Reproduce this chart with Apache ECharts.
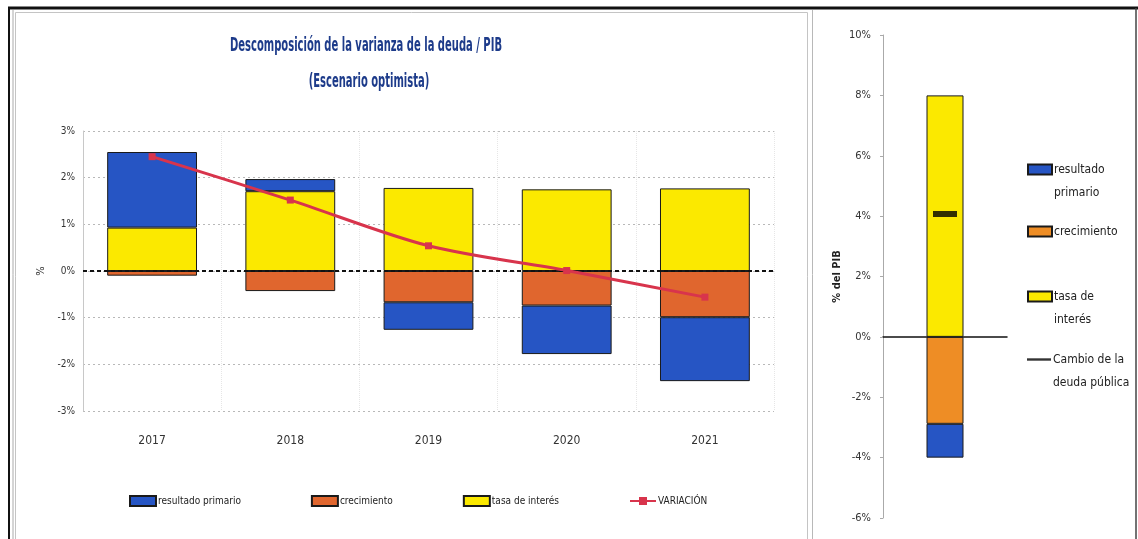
<!DOCTYPE html>
<html><head><meta charset="utf-8">
<script src="https://cdn.jsdelivr.net/npm/echarts@6/dist/echarts.min.js"></script>
<style>html,body{margin:0;padding:0;background:#fff}#c{width:1138px;height:539px}</style>
</head><body><div id="c"></div><script>
// ---- data (left chart, % of GDP) ----
const years = ['2017', '2018', '2019', '2020', '2021'];
const resultadoPrimario = [1.62, 0.26, -0.59, -1.04, -1.37];
const crecimiento = [-0.10, -0.43, -0.67, -0.74, -0.99];
const tasaInteres = [0.93, 1.71, 1.78, 1.75, 1.77];
const variacion = [2.45, 1.52, 0.54, 0.01, -0.56];
// ---- data (right chart, accumulated 2017-2021) ----
const periodo = ['2017-2021'];
const totResultado = [-1.12];
const totCrecimiento = [-2.88];
const totTasa = [8.0];
const cambioDeuda = [4.07];
// ---- tick labels ----
const leftTicks = { min: -3, max: 3, interval: 1 };
const rightTicks = { min: -6, max: 10, interval: 2 };
const titleLines = ['Descomposición de la varianza de la deuda / PIB', '(Escenario optimista)'];

const FN = '"DejaVu Sans Condensed","Liberation Sans Narrow","Roboto",sans-serif';
const BLUE = '#2655c4', ORANGE = '#e0662e', YELLOW = '#fbe900', RED = '#d8344c';
const ORANGE2 = '#ee8d25';

// horizontal compression of title to mimic the narrow original font
const TFONT = 'bold 19px ' + FN;
const ctx = document.createElement('canvas').getContext('2d');
ctx.font = TFONT;
const t1w = ctx.measureText(titleLines[0]).width;
const titleScale = 272 / t1w;

const chart = echarts.init(document.getElementById('c'), null, { renderer: 'canvas' });
const legendTxt = { fontFamily: FN, fontSize: 10, color: '#222', padding: [0, 0, 0, -3] };
const rightLegendTxt = { fontFamily: FN, fontSize: 12, color: '#222', lineHeight: 23, padding: [0, 0, 0, -3] };

const option = {
  animation: false,
  backgroundColor: '#fff',
  graphic: [
    { type: 'line', silent: true, shape: { x1: 8, y1: 8, x2: 1138, y2: 8 }, style: { stroke: '#111', lineWidth: 3 } },
    { type: 'line', silent: true, shape: { x1: 9, y1: 8, x2: 9, y2: 539 }, style: { stroke: '#111', lineWidth: 2 } },
    { type: 'line', silent: true, shape: { x1: 13, y1: 10, x2: 13, y2: 539 }, style: { stroke: '#aaa', lineWidth: 1 } },
    { type: 'rect', silent: true, shape: { x: 15.5, y: 12.5, width: 792, height: 530 }, style: { fill: 'none', stroke: '#c4c4c4', lineWidth: 1 } },
    { type: 'line', silent: true, shape: { x1: 812.5, y1: 10, x2: 812.5, y2: 539 }, style: { stroke: '#b8b8b8', lineWidth: 1 } },
    { type: 'line', silent: true, shape: { x1: 1136, y1: 8, x2: 1136, y2: 539 }, style: { stroke: '#444', lineWidth: 1.5 } },
    { type: 'text', silent: true, x: 366, y: 46, scaleX: titleScale,
      style: { text: titleLines[0], font: TFONT, fill: '#1d3b8a', align: 'center', verticalAlign: 'middle' } },
    { type: 'text', silent: true, x: 369, y: 82, scaleX: titleScale,
      style: { text: titleLines[1], font: TFONT, fill: '#1d3b8a', align: 'center', verticalAlign: 'middle' } }
  ],
  legend: [
    { left: 124, top: 490, itemWidth: 26, itemHeight: 10, itemGap: 70, textStyle: legendTxt,
      data: [{ name: 'resultado primario', icon: 'rect' }, { name: 'crecimiento', icon: 'rect' },
             { name: 'tasa de interés', icon: 'rect' }, { name: 'VARIACIÓN' }] },
    { left: 1022, top: 130, orient: 'vertical', icon: 'rect', itemWidth: 24, itemHeight: 10, data: ['rp_tot'],
      formatter: () => '\nresultado\nprimario', textStyle: rightLegendTxt },
    { left: 1022, top: 215, orient: 'vertical', icon: 'rect', itemWidth: 24, itemHeight: 10, data: ['cr_tot'],
      formatter: () => 'crecimiento', textStyle: rightLegendTxt },
    { left: 1022, top: 257, orient: 'vertical', icon: 'rect', itemWidth: 24, itemHeight: 10, data: ['ti_tot'],
      formatter: () => '\ntasa de\ninterés', textStyle: rightLegendTxt },
    { left: 1022, top: 320, orient: 'vertical', itemWidth: 24, itemHeight: 10,
      data: [{ name: 'cd_tot', icon: 'path://M0,0L30,0L30,3L0,3Z' }],
      formatter: () => '\nCambio de la\ndeuda pública', textStyle: rightLegendTxt }
  ],
  grid: [
    { left: 83, top: 131, width: 691, height: 280 },
    { left: 883, top: 35, width: 124, height: 483 }
  ],
  xAxis: [
    { type: 'category', gridIndex: 0, data: years,
      axisLine: { show: false }, axisTick: { show: false },
      axisLabel: { fontFamily: FN, fontSize: 12, color: '#333', margin: 24 },
      splitLine: { show: true, lineStyle: { color: '#e6e6e6', type: 'dotted' } } },
    { type: 'category', gridIndex: 1, data: periodo,
      axisLine: { onZero: true, lineStyle: { color: '#111', width: 1.5 } },
      axisTick: { show: false }, axisLabel: { show: false } }
  ],
  yAxis: [
    { type: 'value', gridIndex: 0, min: leftTicks.min, max: leftTicks.max, interval: leftTicks.interval,
      name: '%', nameLocation: 'middle', nameGap: 24, nameRotate: 90,
      nameTextStyle: { fontFamily: FN, fontSize: 11, color: '#333' },
      axisLine: { show: true, lineStyle: { color: '#c8c8c8' } }, axisTick: { show: false },
      axisLabel: { formatter: '{value}%', fontFamily: FN, fontSize: 10, color: '#333', margin: 8 },
      splitLine: { lineStyle: { color: '#b8b8b8', type: [2, 3] } } },
    { type: 'value', gridIndex: 1, min: rightTicks.min, max: rightTicks.max, interval: rightTicks.interval,
      name: '% del PIB', nameLocation: 'middle', nameGap: 40, nameRotate: 90,
      nameTextStyle: { fontFamily: FN, fontSize: 11, fontWeight: 'bold', color: '#222' },
      axisLine: { show: true, lineStyle: { color: '#aaa' } },
      axisTick: { show: true, length: 3, lineStyle: { color: '#aaa' } },
      axisLabel: { formatter: '{value}%', fontFamily: FN, fontSize: 11, color: '#333', margin: 12 },
      splitLine: { show: false } }
  ],
  series: [
    { name: 'crecimiento', type: 'bar', stack: 'L', xAxisIndex: 0, yAxisIndex: 0, barWidth: '65%',
      data: crecimiento, itemStyle: { color: ORANGE, borderColor: '#1a1a1a', borderWidth: 1 },
      markLine: { silent: true, symbol: 'none', label: { show: false },
        lineStyle: { color: '#111', type: [4, 3], width: 2 }, data: [{ yAxis: 0 }] } },
    { name: 'tasa de interés', type: 'bar', stack: 'L', xAxisIndex: 0, yAxisIndex: 0, barWidth: '65%',
      data: tasaInteres, itemStyle: { color: YELLOW, borderColor: '#1a1a1a', borderWidth: 1 } },
    { name: 'resultado primario', type: 'bar', stack: 'L', xAxisIndex: 0, yAxisIndex: 0, barWidth: '65%',
      data: resultadoPrimario, itemStyle: { color: BLUE, borderColor: '#1a1a1a', borderWidth: 1 } },
    { name: 'VARIACIÓN', type: 'line', xAxisIndex: 0, yAxisIndex: 0, data: variacion, smooth: 0.3,
      symbol: 'rect', symbolSize: 7, z: 5,
      lineStyle: { color: RED, width: 3 }, itemStyle: { color: RED } },

    { name: 'ti_tot', type: 'bar', stack: 'R', xAxisIndex: 1, yAxisIndex: 1, barWidth: 37,
      data: totTasa, itemStyle: { color: YELLOW, borderColor: '#1a1a1a', borderWidth: 1 } },
    { name: 'cr_tot', type: 'bar', stack: 'R', xAxisIndex: 1, yAxisIndex: 1, barWidth: 37,
      data: totCrecimiento, itemStyle: { color: ORANGE2, borderColor: '#1a1a1a', borderWidth: 1 } },
    { name: 'rp_tot', type: 'bar', stack: 'R', xAxisIndex: 1, yAxisIndex: 1, barWidth: 37,
      data: totResultado, itemStyle: { color: BLUE, borderColor: '#1a1a1a', borderWidth: 1 } },
    { name: 'cd_tot', type: 'scatter', xAxisIndex: 1, yAxisIndex: 1, data: cambioDeuda,
      symbol: 'rect', symbolSize: [24, 6], z: 5, itemStyle: { color: '#000' } }
  ]
};
chart.setOption(option);
</script></body></html>
